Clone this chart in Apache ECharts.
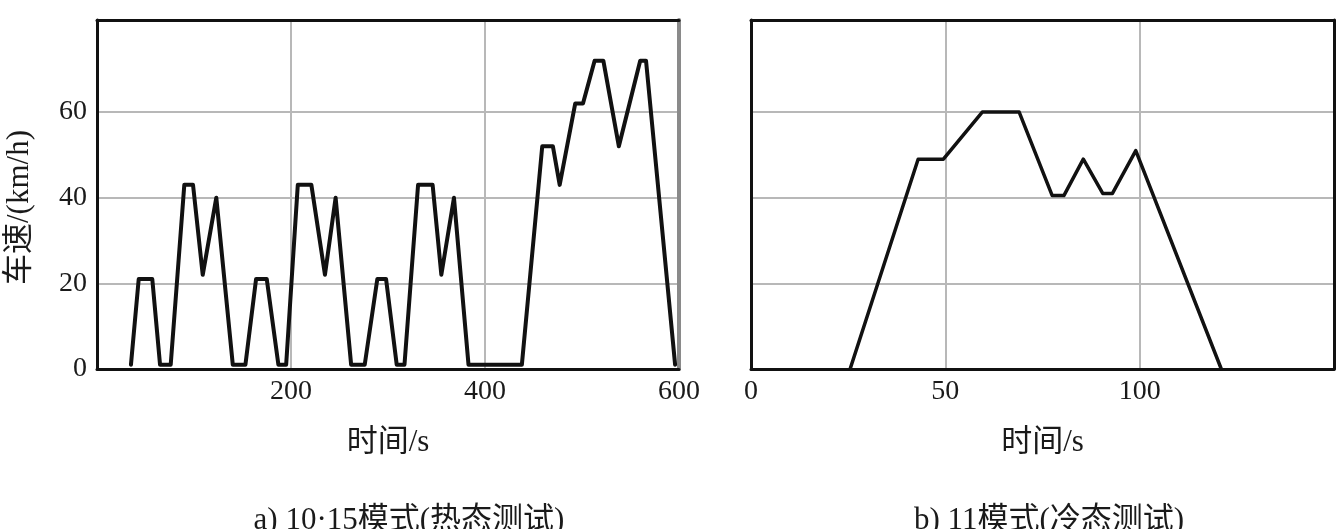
<!DOCTYPE html>
<html>
<head>
<meta charset="utf-8">
<script src="https://cdn.jsdelivr.net/npm/echarts@6/dist/echarts.min.js"></script>
<style>
html,body{margin:0;padding:0;background:#fff;}
#c{width:1337px;height:529px;}
</style>
</head>
<body>
<div id="c"></div>
<script>
// 10·15 mode (hot test): time (s) and speed (km/h)
var leftTime  = [35, 43, 57, 65, 76, 90, 99, 109, 123, 140, 153, 164, 175, 187, 195, 207, 221, 235, 246, 262, 276, 289, 298, 309, 317, 331, 346, 355, 368, 383, 438, 459, 470, 477, 493, 501, 513, 522, 538, 560, 566, 596];
var leftSpeed = [1, 21, 21, 1, 1, 43, 43, 22, 40, 1, 1, 21, 21, 1, 1, 43, 43, 22, 40, 1, 1, 21, 21, 1, 1, 43, 43, 22, 40, 1, 1, 52, 52, 43, 62, 62, 72, 72, 52, 72, 72, 1];
// 11 mode (cold test)
var rightTime  = [25.5, 43, 49.5, 59.5, 69, 77.5, 80.5, 85.5, 90.5, 93, 99, 121];
var rightSpeed = [0, 49, 49, 60, 60, 40.5, 40.5, 49, 41, 41, 51, 0];
// tick labels
var yTicks = [0, 20, 40, 60];
var leftXTicks = [200, 400, 600];
var rightXTicks = [0, 50, 100];
var yAxisName = '车速/(km/h)';
var xAxisName = '时间/s';
var titleA = 'a) 10·15模式(热态测试)';
var titleB = 'b) 11模式(冷态测试)';

function zip(a, b) { return a.map(function (v, i) { return [v, b[i]]; }); }

var FONT = "'Liberation Serif', 'Noto Sans CJK SC', serif";
var TXT = '#1a1a1a';
var BORDER = '#111';
var GRIDC = '#b8b8b8';

function frameAxis(base) {
  return Object.assign({
    type: 'value',
    axisLine: { show: true, onZero: false, lineStyle: { color: BORDER, width: 3 } },
    axisTick: { show: false },
    axisLabel: { show: false },
    splitLine: { show: false }
  }, base);
}

var chart = echarts.init(document.getElementById('c'), null, { renderer: 'canvas' });
chart.setOption({
  animation: false,
  backgroundColor: '#fff',
  title: [
    { text: titleA, left: 404, top: 500, textAlign: 'center',
      textStyle: { fontFamily: FONT, fontSize: 31, fontWeight: 'normal', color: TXT } },
    { text: titleB, left: 1044, top: 500, textAlign: 'center',
      textStyle: { fontFamily: FONT, fontSize: 31, fontWeight: 'normal', color: TXT } }
  ],
  grid: [
    { left: 97, top: 20, width: 582, height: 349, show: false },
    { left: 751, top: 20, width: 583, height: 349, show: false }
  ],
  xAxis: [
    { type: 'value', gridIndex: 0, min: 0, max: 600, position: 'bottom',
      name: xAxisName, nameLocation: 'middle', nameGap: 58,
      nameTextStyle: { fontFamily: FONT, fontSize: 31, color: TXT },
      axisLine: { show: true, onZero: false, lineStyle: { color: BORDER, width: 3 } },
      axisTick: { show: false, customValues: leftXTicks },
      axisLabel: { customValues: leftXTicks, margin: 9, fontFamily: FONT, fontSize: 28, color: TXT },
      splitLine: { show: true, lineStyle: { color: GRIDC, width: 2 } } },
    frameAxis({ gridIndex: 0, min: 0, max: 600, position: 'top' }),
    { type: 'value', gridIndex: 1, min: 0, max: 150, position: 'bottom',
      name: xAxisName, nameLocation: 'middle', nameGap: 58,
      nameTextStyle: { fontFamily: FONT, fontSize: 31, color: TXT },
      axisLine: { show: true, onZero: false, lineStyle: { color: BORDER, width: 3 } },
      axisTick: { show: false, customValues: rightXTicks },
      axisLabel: { customValues: rightXTicks, margin: 9, fontFamily: FONT, fontSize: 28, color: TXT },
      splitLine: { show: true, lineStyle: { color: GRIDC, width: 2 } } },
    frameAxis({ gridIndex: 1, min: 0, max: 150, position: 'top' })
  ],
  yAxis: [
    { type: 'value', gridIndex: 0, min: 0, max: 81.5, position: 'left',
      name: yAxisName, nameLocation: 'middle', nameGap: 62, nameRotate: 90,
      nameTextStyle: { fontFamily: FONT, fontSize: 31, color: TXT, padding: [0, 26, 0, 0] },
      axisLine: { show: true, onZero: false, lineStyle: { color: BORDER, width: 3 } },
      axisTick: { show: false, customValues: yTicks },
      axisLabel: { customValues: yTicks, margin: 10, fontFamily: FONT, fontSize: 28, color: TXT },
      splitLine: { show: true, lineStyle: { color: GRIDC, width: 2 } } },
    frameAxis({ gridIndex: 0, min: 0, max: 81.5, position: 'right',
      axisLine: { show: true, onZero: false, lineStyle: { color: '#8a8a8a', width: 4 } } }),
    { type: 'value', gridIndex: 1, min: 0, max: 81.5, position: 'left',
      axisLine: { show: true, onZero: false, lineStyle: { color: BORDER, width: 3 } },
      axisTick: { show: false, customValues: yTicks },
      axisLabel: { show: false, customValues: yTicks },
      splitLine: { show: true, lineStyle: { color: GRIDC, width: 2 } } },
    frameAxis({ gridIndex: 1, min: 0, max: 81.5, position: 'right' })
  ],
  series: [
    { type: 'line', xAxisIndex: 0, yAxisIndex: 0, data: zip(leftTime, leftSpeed),
      showSymbol: false, symbol: 'none', silent: true,
      lineStyle: { color: '#111', width: 4, join: 'round', cap: 'round' } },
    { type: 'line', xAxisIndex: 2, yAxisIndex: 2, data: zip(rightTime, rightSpeed),
      showSymbol: false, symbol: 'none', silent: true,
      lineStyle: { color: '#111', width: 3.5, join: 'round', cap: 'round' } }
  ]
});
</script>
</body>
</html>
